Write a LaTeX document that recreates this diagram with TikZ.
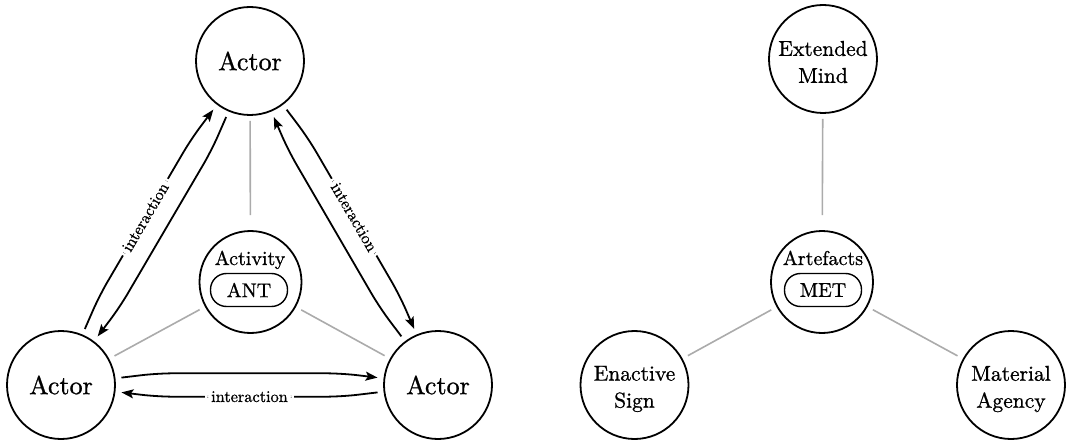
\documentclass[tikz,border=0pt]{standalone}
\usepackage{fontspec}
% one design size for every text size, set a little heavier
\setmainfont{lmroman10-regular.otf}[RawFeature={embolden=0.9}]
\usetikzlibrary{arrows.meta,calc}
\begin{document}
\begin{tikzpicture}[x=1pt,y=1pt,
  outer/.style={circle, draw, line width=1.8pt, minimum size=108pt, inner sep=0pt,
    align=center, font=\fontsize{21.5}{27}\selectfont},
  actor/.style={outer, font=\fontsize{26}{30}\selectfont},
  twoline/.style={inner sep=0pt, align=center, font=\fontsize{21.5}{27}\selectfont},
  hub/.style={circle, draw, line width=1.8pt, minimum size=102pt, inner sep=0pt},
  hubname/.style={anchor=base, inner sep=0pt, font=\fontsize{20}{24}\selectfont},
  theory/.style={draw, line width=1.4pt, rounded corners=16pt, minimum width=77pt,
    minimum height=33pt, inner sep=0pt, font=\fontsize{20}{24}\selectfont},
  link/.style={draw=black!33, line width=1.6pt, shorten <=6pt, shorten >=6pt},
  flow/.style={line width=1.8pt, rounded corners=16pt,
    -{Stealth[length=12pt,width=9pt,inset=2.5pt]}, shorten <=6pt, shorten >=6pt},
  lbl/.style={sloped, fill=white, inner xsep=6pt, inner ysep=2pt,
    font=\fontsize{16.3}{18}\selectfont}
]
\useasboundingbox (0,0) rectangle (1066,440);

% ---------- ANT triangle ----------
\node[actor] (ta) at (250,379) {Actor};
\node[actor] (bl) at (61,55) {Actor};
\node[actor] (br) at (438,55) {Actor};
\node[hub] (act) at (250.5,158) {};
\node[hubname] (actname) at (250,175) {Activity};
\node[theory] (ant) at (249,150) {ANT};

\draw[link, shorten <=5pt, shorten >=15pt] (ta) -- (act);
\draw[link] (bl) -- (act);
\draw[link] (br) -- (act);

% bottom pair
\draw[flow] (bl.7) -- ($(bl.7)!42pt!(br.173)!5pt!90:(br.173)$)
  -- ($(br.173)!42pt!(bl.7)!5pt!-90:(bl.7)$) -- (br.173);
\draw[flow] (br.187) -- ($(br.187)!42pt!(bl.353)!5pt!90:(bl.353)$)
  -- node[lbl]{interaction} ($(bl.353)!42pt!(br.187)!5pt!-90:(br.187)$) -- (bl.353);

% left pair
\draw[flow] (bl.67) -- ($(bl.67)!42pt!(ta.233)!5pt!90:(ta.233)$)
  -- node[lbl]{interaction} ($(ta.233)!42pt!(bl.67)!5pt!-90:(bl.67)$) -- (ta.233);
\draw[flow] (ta.247) -- ($(ta.247)!42pt!(bl.53)!5pt!90:(bl.53)$)
  -- ($(bl.53)!42pt!(ta.247)!5pt!-90:(ta.247)$) -- (bl.53);

% right pair
\draw[flow] (ta.307) -- ($(ta.307)!42pt!(br.113)!5pt!90:(br.113)$)
  -- node[lbl]{interaction} ($(br.113)!42pt!(ta.307)!5pt!-90:(ta.307)$) -- (br.113);
\draw[flow] (br.127) -- ($(br.127)!42pt!(ta.293)!5pt!90:(ta.293)$)
  -- ($(ta.293)!42pt!(br.127)!5pt!-90:(br.127)$) -- (ta.293);

% ---------- MET triad ----------
\node[outer] (em) at (823,381) {};
\node[twoline] (emtext) at ($(em)+(0,-3)$) {Extended\\Mind};
\node[hub] (art) at (822,158) {};
\node[hubname] (artname) at (823,175) {Artefacts};
\node[theory] (met) at (823,150) {MET};
\node[outer] (es) at (634.5,55) {};
\node[twoline] (estext) at ($(es)+(0,-4)$) {Enactive\\Sign};
\node[outer] (ma) at (1011,55) {};
\node[twoline] (matext) at ($(ma)+(0,-4)$) {Material\\Agency};

\draw[link, shorten <=5pt, shorten >=15pt] (em) -- (art);
\draw[link] (es) -- (art);
\draw[link] (ma) -- (art);
\end{tikzpicture}
\end{document}
